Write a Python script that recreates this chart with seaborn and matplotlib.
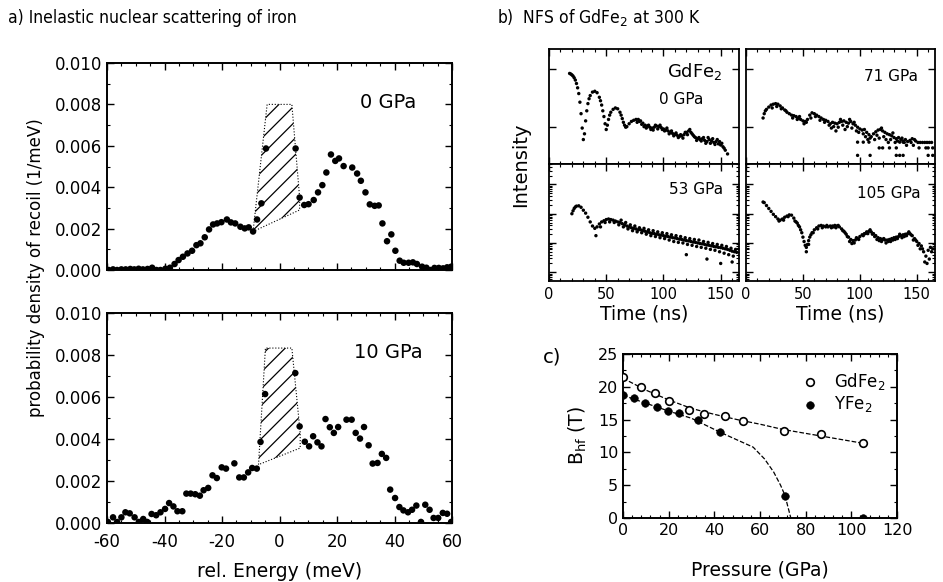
import numpy as np
import pandas as pd
import seaborn as sns
import matplotlib.pyplot as plt
from matplotlib.ticker import MultipleLocator, NullFormatter, LogLocator

# ---- panel a: inelastic nuclear scattering (energy in meV, density in 1/meV)
e_0gpa = [-59.4, -57.9, -56.5, -55.0, -53.5, -51.9, -50.5, -49.0, -47.5, -45.9,
          -44.3, -42.8, -41.4, -39.7, -38.1, -36.5, -35.1, -33.6, -32.0, -30.4,
          -28.9, -27.5, -26.0, -24.5, -23.1, -21.7, -20.2, -18.3, -16.9, -15.4,
          -13.6, -12.1, -10.7, -9.2, -7.8, -6.3, -4.7, 5.6, 7.0, 8.6,
          10.1, 11.9, 13.4, 14.9, 16.3, 17.9, 19.4, 20.7, 22.3, 25.3,
          27.0, 28.3, 29.9, 31.4, 33.1, 34.5, 35.8, 37.4, 38.9, 40.3,
          41.8, 43.2, 44.9, 46.4, 47.8, 49.6, 51.1, 52.5, 53.9, 55.4,
          56.9, 58.3, 59.7]
p_0gpa = [0.00000, 0.00003, 0.00000, 0.00003, 0.00003, 0.00005, 0.00003, 0.00006, 0.00003, 0.00005,
          0.00011, 0.00000, 0.00000, 0.00006, 0.00011, 0.00029, 0.00048, 0.00064, 0.00080, 0.00093,
          0.00120, 0.00129, 0.00158, 0.00196, 0.00220, 0.00225, 0.00231, 0.00244, 0.00230, 0.00225,
          0.00209, 0.00201, 0.00206, 0.00186, 0.00244, 0.00322, 0.00587, 0.00587, 0.00350, 0.00314,
          0.00318, 0.00338, 0.00375, 0.00410, 0.00471, 0.00558, 0.00527, 0.00539, 0.00502, 0.00495,
          0.00466, 0.00431, 0.00375, 0.00317, 0.00310, 0.00312, 0.00225, 0.00139, 0.00172, 0.00093,
          0.00045, 0.00035, 0.00035, 0.00037, 0.00029, 0.00016, 0.00011, 0.00000, 0.00010, 0.00010,
          0.00008, 0.00013, 0.00016]
hatch_0gpa_e = [-9.2, -4.3, 4.3, 7.0, 7.0]
hatch_0gpa_p = [0.00186, 0.0080, 0.0080, 0.0035, 0.0029]

e_10gpa = [-59.7, -57.9, -56.5, -55.0, -53.6, -52.1, -50.4, -48.9, -47.4, -46.0,
           -44.5, -42.9, -41.4, -39.8, -38.4, -36.9, -35.5, -33.8, -32.4, -30.9,
           -29.3, -27.7, -26.4, -24.8, -23.3, -21.8, -20.1, -18.6, -15.7, -14.0,
           -12.4, -10.9, -9.5, -7.9, -6.6, -5.0, 5.5, 7.0, 8.8, 10.3,
           11.7, 13.2, 14.6, 16.0, 17.5, 18.9, 20.4, 23.3, 25.1, 26.5,
           28.0, 29.4, 31.0, 32.4, 34.1, 35.6, 37.1, 38.5, 40.2, 41.7,
           43.1, 44.7, 46.1, 47.6, 49.2, 50.7, 52.2, 53.6, 55.2, 56.8,
           58.3, 59.7]
p_10gpa = [0.00005, 0.00027, 0.00005, 0.00027, 0.00051, 0.00046, 0.00027, 0.00005, 0.00019, 0.00005,
           0.00043, 0.00037, 0.00051, 0.00067, 0.00095, 0.00079, 0.00056, 0.00056, 0.00140, 0.00140,
           0.00137, 0.00130, 0.00156, 0.00167, 0.00227, 0.00214, 0.00265, 0.00259, 0.00284, 0.00217,
           0.00217, 0.00241, 0.00262, 0.00259, 0.00386, 0.00614, 0.00714, 0.00460, 0.00387, 0.00365,
           0.00413, 0.00384, 0.00365, 0.00495, 0.00456, 0.00429, 0.00457, 0.00492, 0.00492, 0.00429,
           0.00402, 0.00457, 0.00370, 0.00283, 0.00286, 0.00329, 0.00310, 0.00159, 0.00119, 0.00076,
           0.00060, 0.00051, 0.00063, 0.00083, 0.00005, 0.00087, 0.00063, 0.00024, 0.00024, 0.00048,
           0.00044, 0.00005]
hatch_10gpa_e = [-7.3, -4.9, 4.3, 7.2, 7.2]
hatch_10gpa_p = [0.00278, 0.00833, 0.00833, 0.00429, 0.00357]

# ---- panel b: NFS time spectra (time in ns, log10 of intensity)
t_0gpa = [18, 19, 20, 21, 22, 23, 24, 25, 26, 27, 28, 29, 30, 31, 32, 33, 34, 35, 36, 38,
          40, 42, 44, 45, 46, 47, 48, 49, 50, 51, 52, 53, 54, 56, 58, 60, 62, 63, 64, 65,
          66, 67, 68, 70, 72, 74, 76, 78, 80, 82, 84, 86, 88, 90, 92, 94, 96, 98, 100, 102,
          104, 106, 108, 110, 112, 114, 116, 118, 120, 122, 124, 126, 128, 130, 132, 134, 136, 138, 140, 142,
          144, 146, 148, 150, 152, 154, 156]
lg_0gpa = [2.85, 2.83, 2.80, 2.76, 2.70, 2.62, 2.50, 2.35, 2.15, 1.85, 1.45, 0.95, 0.55, 0.75, 1.20, 1.55, 1.80, 1.97, 2.08, 2.20,
           2.23, 2.18, 2.02, 1.90, 1.75, 1.55, 1.35, 1.10, 0.90, 1.05, 1.25, 1.40, 1.50, 1.60, 1.65, 1.62, 1.50, 1.40, 1.28, 1.15,
           1.05, 0.98, 1.00, 1.10, 1.18, 1.22, 1.25, 1.25, 1.20, 1.12, 1.05, 1.02, 0.98, 0.95, 0.98, 1.02, 1.00, 0.97, 0.92, 0.88,
           0.85, 0.80, 0.76, 0.73, 0.70, 0.66, 0.68, 0.72, 0.80, 0.85, 0.80, 0.70, 0.62, 0.58, 0.55, 0.58, 0.52, 0.48, 0.55, 0.50,
           0.45, 0.48, 0.40, 0.36, 0.30, 0.18, 0.05]
t_0gpa_b = [77, 79, 81, 83, 85, 87, 89, 91, 93, 95, 97, 99, 101, 103, 105, 107, 109, 111, 113, 115,
            117, 119, 121, 123, 125, 127, 129, 131, 133, 135, 137, 139, 141, 143, 145, 147, 149, 151, 153]
lg_0gpa_b = [1.15, 1.18, 1.08, 1.00, 0.95, 1.05, 0.90, 0.88, 1.05, 0.92, 1.05, 0.90, 0.85, 0.95, 0.75, 0.85, 0.68, 0.78, 0.62, 0.72,
             0.60, 0.80, 0.72, 0.90, 0.75, 0.65, 0.52, 0.62, 0.50, 0.62, 0.42, 0.62, 0.42, 0.58, 0.38, 0.55, 0.48, 0.42, 0.25]

t_71gpa = [15, 16, 17, 18, 20, 22, 24, 26, 28, 30, 32, 34, 36, 38, 40, 42, 44, 46, 48, 50,
           52, 54, 56, 58, 60, 62, 64, 66, 68, 70, 72, 74, 76, 78, 80, 82, 84, 86, 88, 90,
           92, 94, 96, 98, 100, 102, 104, 106, 108, 110, 112, 114, 116, 118, 120, 122, 124, 126, 128, 130,
           132, 134, 136, 138, 140, 142, 144, 146, 148]
lg_71gpa = [1.30, 1.45, 1.55, 1.60, 1.68, 1.75, 1.78, 1.80, 1.78, 1.72, 1.65, 1.58, 1.50, 1.45, 1.40, 1.38, 1.35, 1.30, 1.25, 1.20,
            1.18, 1.25, 1.40, 1.48, 1.45, 1.40, 1.35, 1.30, 1.25, 1.22, 1.18, 1.10, 1.15, 1.12, 1.10, 1.15, 1.18, 1.20, 1.15, 1.12,
            1.18, 1.10, 1.05, 0.98, 0.92, 0.88, 0.90, 0.80, 0.72, 0.65, 0.75, 0.82, 0.88, 0.90, 0.85, 0.80, 0.75, 0.72, 0.68, 0.62,
            0.58, 0.62, 0.55, 0.50, 0.55, 0.48, 0.52, 0.58, 0.55]
t_71gpa_b = [23, 27, 31, 35, 41, 45, 47, 51, 53, 57, 61, 65, 69, 73, 75, 77, 79, 81, 83, 85,
             87, 89, 91, 93, 95, 97, 99, 103, 105, 107, 109, 113, 115, 117, 119, 121, 123, 125, 127, 129,
             131, 133, 137, 139, 141, 145, 147, 149, 151, 153, 155, 157, 159, 161, 163,
             98, 103, 108, 117, 120, 126, 132, 135, 138, 152, 158, 160, 164,
             98, 109, 132, 135, 138, 160, 164]
lg_71gpa_b = [1.65, 1.70, 1.62, 1.55, 1.30, 1.25, 1.35, 1.10, 1.15, 1.30, 1.35, 1.22, 1.15, 1.05, 0.95, 1.00, 0.85, 0.98, 1.25, 1.05,
              0.90, 1.00, 1.25, 0.95, 1.15, 0.85, 0.80, 0.75, 0.65, 0.55, 0.60, 0.55, 0.70, 0.60, 0.95, 0.65, 0.55, 0.45, 0.55, 0.78,
              0.45, 0.50, 0.60, 0.45, 0.35, 0.45, 0.35, 0.50, 0.45, 0.45, 0.45, 0.45, 0.45, 0.45, 0.45,
              0.46, 0.46, 0.46, 0.26, 0.26, 0.26, 0.26, 0.46, 0.46, 0.26, 0.26, 0.26, 0.26,
              0.00, 0.00, 0.00, 0.00, 0.00, 0.00, 0.00]

t_53gpa = [20, 21, 22, 23, 24, 26, 28, 30, 32, 34, 36, 38, 40, 42, 44, 46, 48, 50, 52, 54,
           56, 58, 60, 62, 64, 66, 68, 70, 72, 74, 76, 78, 80, 82, 84, 86, 88, 90, 92, 94,
           96, 98, 100, 102, 104, 106, 108, 110, 112, 114, 116, 118, 120, 122, 124, 126, 128, 130, 132, 134,
           136, 138, 140, 142, 144, 146, 148, 150, 152, 154, 156, 158, 160, 162, 164]
lg_53gpa = [2.00, 2.10, 2.18, 2.23, 2.26, 2.27, 2.22, 2.12, 2.02, 1.88, 1.72, 1.58, 1.50, 1.55, 1.65, 1.72, 1.76, 1.80, 1.82, 1.80,
            1.78, 1.75, 1.72, 1.70, 1.66, 1.62, 1.58, 1.55, 1.52, 1.50, 1.48, 1.45, 1.45, 1.42, 1.40, 1.38, 1.35, 1.33, 1.32, 1.30,
            1.28, 1.27, 1.25, 1.23, 1.22, 1.20, 1.18, 1.17, 1.15, 1.13, 1.12, 1.10, 1.08, 1.07, 1.05, 1.03, 1.02, 1.00, 0.98, 0.97,
            0.95, 0.93, 0.92, 0.90, 0.88, 0.87, 0.85, 0.84, 0.82, 0.80, 0.78, 0.75, 0.72, 0.70, 0.68]
t_53gpa_b = [41, 45, 49, 53, 57, 61, 63, 65, 67, 69, 71, 73, 75, 77, 79, 81, 83, 85, 87, 89,
             91, 93, 95, 97, 99, 101, 103, 105, 107, 109, 111, 113, 115, 117, 119, 121, 123, 125, 127, 129,
             131, 133, 135, 137, 139, 141, 143, 145, 147, 149, 151, 153, 155, 157, 159, 161, 163, 150, 138, 120, 160]
lg_53gpa_b = [1.25, 1.55, 1.70, 1.72, 1.70, 1.62, 1.78, 1.55, 1.70, 1.48, 1.62, 1.42, 1.58, 1.38, 1.52, 1.35, 1.50, 1.30, 1.45, 1.25,
              1.42, 1.22, 1.38, 1.18, 1.35, 1.15, 1.32, 1.10, 1.28, 1.05, 1.25, 1.02, 1.22, 1.00, 1.18, 0.95, 1.15, 0.92, 1.12, 0.88,
              1.10, 0.85, 1.05, 0.82, 1.02, 0.78, 0.98, 0.75, 0.95, 0.70, 0.92, 0.65, 0.88, 0.60, 0.82, 0.55, 0.78, 0.30, 0.45, 0.60, 0.35]

t_105gpa = [15, 16, 18, 20, 22, 24, 26, 28, 30, 32, 34, 36, 38, 40, 42, 44, 46, 47, 48, 49,
            50, 51, 52, 53, 54, 55, 56, 57, 58, 60, 62, 64, 66, 68, 70, 72, 74, 76, 78, 80,
            82, 84, 86, 88, 90, 92, 94, 96, 98, 100, 102, 104, 106, 108, 110, 112, 114, 116, 118, 120,
            122, 124, 126, 128, 130, 132, 134, 136, 138, 140, 142, 144, 146, 148, 150, 152, 154, 156, 158, 160,
            162, 164]
lg_105gpa = [2.40, 2.38, 2.28, 2.18, 2.08, 1.98, 1.90, 1.82, 1.78, 1.82, 1.88, 1.92, 1.96, 1.95, 1.85, 1.72, 1.60, 1.55, 1.45, 1.35,
             1.20, 1.05, 0.92, 0.85, 0.95, 1.08, 1.20, 1.28, 1.35, 1.45, 1.52, 1.58, 1.60, 1.58, 1.55, 1.55, 1.58, 1.58, 1.60, 1.58,
             1.55, 1.48, 1.40, 1.30, 1.20, 1.12, 1.08, 1.10, 1.15, 1.22, 1.28, 1.32, 1.38, 1.40, 1.38, 1.32, 1.25, 1.18, 1.15, 1.12,
             1.10, 1.10, 1.12, 1.15, 1.18, 1.20, 1.22, 1.25, 1.28, 1.30, 1.32, 1.32, 1.25, 1.15, 1.05, 0.98, 0.90, 0.70, 0.55, 0.75,
             0.85, 0.80]
t_105gpa_b = [29, 33, 37, 43, 45, 53, 55, 59, 63, 67, 71, 75, 77, 79, 81, 85, 87, 89, 91, 93,
              95, 97, 99, 103, 105, 107, 109, 111, 113, 115, 117, 119, 121, 123, 125, 127, 129, 131, 133, 135,
              137, 139, 141, 143, 145, 147, 149, 151, 153, 155, 157, 159, 161, 163]
lg_105gpa_b = [1.75, 1.78, 1.90, 1.75, 1.68, 0.70, 0.95, 1.35, 1.48, 1.52, 1.60, 1.52, 1.55, 1.52, 1.60, 1.42, 1.35, 1.22, 1.05, 0.98,
               1.00, 1.18, 1.12, 1.25, 1.32, 1.32, 1.45, 1.30, 1.22, 1.12, 1.08, 1.05, 1.15, 1.00, 1.05, 1.05, 1.10, 1.12, 1.15, 1.30,
               1.18, 1.22, 1.25, 1.38, 1.28, 1.10, 1.10, 0.92, 0.80, 0.80, 0.35, 0.30, 0.45, 0.70]

# ---- panel c: hyperfine field vs pressure
p_gdfe2 = [0, 8, 14, 20, 29, 35.5, 44.7, 52.6, 70.5, 86.7, 105]
b_gdfe2 = [21.5, 20.0, 19.0, 17.9, 16.5, 15.9, 15.6, 14.8, 13.3, 12.8, 11.4]
p_yfe2 = [0, 4.8, 9.6, 14.9, 19.8, 24.5, 32.9, 42.5, 71, 105]
b_yfe2 = [18.7, 18.3, 17.5, 16.9, 16.3, 16.0, 14.9, 13.1, 3.4, 0.0]
fit_p_gdfe2 = [0, 10, 20, 30, 40, 50, 60, 70, 80, 90, 105]
fit_b_gdfe2 = [21.3, 19.5, 18.0, 16.7, 15.8, 15.0, 14.3, 13.5, 12.9, 12.3, 11.4]
fit_p_yfe2 = [0, 10, 20, 30, 43, 50, 57, 62, 66, 69, 71, 72, 73.5]
fit_b_yfe2 = [18.7, 17.5, 16.3, 15.2, 13.0, 11.9, 10.8, 9.0, 7.0, 5.0, 3.4, 2.0, 0.0]

sns.set_style("ticks")
plt.rcParams['font.family'] = ['DejaVu Sans']
plt.rcParams['axes.unicode_minus'] = False
plt.rcParams['hatch.linewidth'] = 0.9
for k in ('text.color', 'axes.labelcolor', 'xtick.color', 'ytick.color', 'axes.edgecolor'):
    plt.rcParams[k] = 'black'
for k in ('xtick', 'ytick'):
    plt.rcParams[k + '.direction'] = 'in'
    plt.rcParams[k + '.major.width'] = 1.0
    plt.rcParams[k + '.minor.width'] = 0.8
    plt.rcParams[k + '.major.size'] = 5
    plt.rcParams[k + '.minor.size'] = 2.5
plt.rcParams['xtick.top'] = True
plt.rcParams['ytick.right'] = True

fig = plt.figure(figsize=(9.43, 5.82), dpi=100)
W, H = 943.0, 582.0


def add_ax(left, top, right, bottom):
    return fig.add_axes([left / W, 1 - bottom / H, (right - left) / W, (bottom - top) / H])


def style(ax, lw=1.4):
    for s in ax.spines.values():
        s.set_linewidth(lw)
        s.set_color('black')


# panel a
ax_a1 = add_ax(107, 63, 452, 270)
ax_a2 = add_ax(107, 313, 452, 523)
for ax, e, p, he, hp, lab in [(ax_a1, e_0gpa, p_0gpa, hatch_0gpa_e, hatch_0gpa_p, "0 GPa"),
                              (ax_a2, e_10gpa, p_10gpa, hatch_10gpa_e, hatch_10gpa_p, "10 GPa")]:
    ax.fill(he, hp, fill=False, hatch='//', edgecolor='black', linestyle=':', linewidth=0.8)
    sns.scatterplot(x=e, y=p, ax=ax, color='black', s=22, edgecolor='none', legend=False)
    ax.set_xlim(-60, 60)
    ax.set_ylim(0, 0.010)
    ax.xaxis.set_major_locator(MultipleLocator(20))
    ax.xaxis.set_minor_locator(MultipleLocator(5))
    ax.yaxis.set_major_locator(MultipleLocator(0.002))
    ax.yaxis.set_minor_locator(MultipleLocator(0.001))
    ax.yaxis.set_major_formatter(plt.FormatStrFormatter('%.3f'))
    ax.tick_params(which='both', top=True, right=True, labelsize=12)
    ax.tick_params(axis='x', pad=7)
    ax.text(0.815, 0.81, lab, transform=ax.transAxes, ha='center', va='center', fontsize=14)
    style(ax)
ax_a1.tick_params(labelbottom=False)
ax_a2.set_xlabel("rel. Energy (meV)", fontsize=13.5, labelpad=8)
fig.text(36 / W, 1 - 268 / H, "probability density of recoil (1/meV)", rotation=90,
         ha='center', va='center', fontsize=12)

# panel b
ax_b = {
    'tl': add_ax(549, 49, 739, 164),
    'tr': add_ax(746, 49, 935, 164),
    'bl': add_ax(549, 164, 739, 281),
    'br': add_ax(746, 164, 935, 281),
}
nfs = [('tl', t_0gpa, lg_0gpa, t_0gpa_b, lg_0gpa_b),
       ('tr', t_71gpa, lg_71gpa, t_71gpa_b, lg_71gpa_b),
       ('bl', t_53gpa, lg_53gpa, t_53gpa_b, lg_53gpa_b),
       ('br', t_105gpa, lg_105gpa, t_105gpa_b, lg_105gpa_b)]
for key, t, lg, tb, lgb in nfs:
    ax = ax_b[key]
    df = pd.DataFrame({'t': t + tb, 'I': 10 ** np.array(lg + lgb)})
    sns.scatterplot(data=df, x='t', y='I', ax=ax, color='black', s=6, edgecolor='none', legend=False)
    ax.set_yscale('log')
    ax.set_ylim(10 ** -0.3, 10 ** 3.7)
    ax.set_xlim(0, 166)
    ax.xaxis.set_major_locator(MultipleLocator(50))
    ax.xaxis.set_minor_locator(MultipleLocator(10))
    ax.yaxis.set_major_locator(LogLocator(base=10))
    ax.yaxis.set_minor_locator(LogLocator(base=10, subs=np.arange(2, 10)))
    ax.yaxis.set_major_formatter(NullFormatter())
    ax.yaxis.set_minor_formatter(NullFormatter())
    ax.tick_params(which='both', top=True, right=True, labelsize=10.5, pad=4)
    ax.set_xlabel("")
    ax.set_ylabel("")
    style(ax, 1.3)
for key in ('tl', 'tr'):
    ax_b[key].tick_params(labelbottom=False)
for key in ('bl', 'br'):
    ax_b[key].set_xlabel("Time (ns)", fontsize=13.5, labelpad=2)
ax_b['tl'].text(0.915, 0.80, r"GdFe$_2$", transform=ax_b['tl'].transAxes, ha='right', va='center', fontsize=13)
ax_b['tl'].text(0.81, 0.56, "0 GPa", transform=ax_b['tl'].transAxes, ha='right', va='center', fontsize=11)
ax_b['tr'].text(0.91, 0.76, "71 GPa", transform=ax_b['tr'].transAxes, ha='right', va='center', fontsize=11)
ax_b['bl'].text(0.915, 0.78, "53 GPa", transform=ax_b['bl'].transAxes, ha='right', va='center', fontsize=11)
ax_b['br'].text(0.925, 0.75, "105 GPa", transform=ax_b['br'].transAxes, ha='right', va='center', fontsize=11)
fig.text(521 / W, 1 - 165 / H, "Intensity", rotation=90, ha='center', va='center', fontsize=14)

# panel c
ax_c = add_ax(623, 354, 897, 518)
sns.lineplot(x=fit_p_gdfe2, y=fit_b_gdfe2, ax=ax_c, color='black', linestyle='--', linewidth=0.9, sort=False)
sns.lineplot(x=fit_p_yfe2, y=fit_b_yfe2, ax=ax_c, color='black', linestyle='--', linewidth=0.9, sort=False)
sns.scatterplot(x=p_gdfe2, y=b_gdfe2, ax=ax_c, color='white', edgecolor='black', linewidth=1.2,
                s=30, label=r"GdFe$_2$", zorder=3)
sns.scatterplot(x=p_yfe2, y=b_yfe2, ax=ax_c, color='black', edgecolor='black', s=30,
                label=r"YFe$_2$", zorder=3)
ax_c.set_xlim(0, 120)
ax_c.set_ylim(0, 25)
ax_c.xaxis.set_major_locator(MultipleLocator(20))
ax_c.xaxis.set_minor_locator(MultipleLocator(4))
ax_c.yaxis.set_major_locator(MultipleLocator(5))
ax_c.yaxis.set_minor_locator(MultipleLocator(2.5))
ax_c.tick_params(which='both', top=True, right=True, labelsize=11.5)
ax_c.set_xlabel("Pressure (GPa)", fontsize=13.5, labelpad=16)
ax_c.set_ylabel(r"B$_{\rm hf}$ (T)", fontsize=13.5, labelpad=6)
ax_c.legend(loc='upper right', bbox_to_anchor=(1.0, 0.97), frameon=False, fontsize=12,
            handletextpad=0.4, labelspacing=0.15, borderaxespad=0.3)
style(ax_c)

# panel titles
fig.text(8 / W, 1 - 18 / H, "a) Inelastic nuclear scattering of iron", family='DejaVu Sans',
         fontstretch='condensed', fontsize=12.5, ha='left', va='center')
fig.text(497 / W, 1 - 18 / H, r"b)  NFS of GdFe$_2$ at 300 K", family='DejaVu Sans',
         fontstretch='condensed', fontsize=12.5, ha='left', va='center')
fig.text(543 / W, 1 - 357 / H, "c)", fontsize=14, ha='left', va='center')

fig.savefig("out.png", dpi=100)
